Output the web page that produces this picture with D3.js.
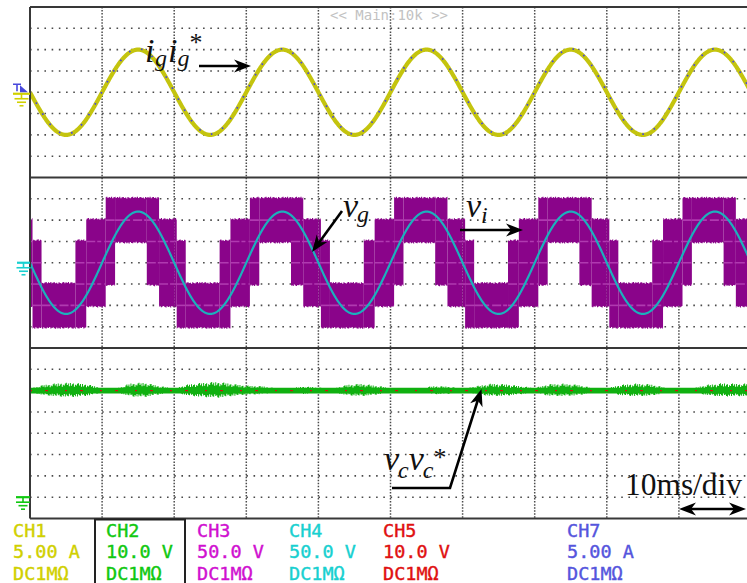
<!DOCTYPE html>
<html>
<head>
<meta charset="utf-8">
<script src="https://cdn.jsdelivr.net/npm/d3@7"></script>
<style>
  html, body { margin: 0; padding: 0; background: #fff; overflow: hidden; }
  svg { display: block; }
</style>
</head>
<body>
<svg id="scope" width="747" height="583"></svg>
<script>
// ---- acquisition settings -------------------------------------------------
const timeDomain = [0, 100];          // ms on screen, 10 ms/div
const gridFreqHz = 50;

// CH1 grid current i_g and CH7 its reference i_g* (A peak)
const igPeak = 10;
const igRefPeak = 10;
// CH4 grid voltage v_g (V peak)
const vgPeak = 120;
// both sinusoids start going negative at t = 0
const sinePhase = Math.PI;

// CH3 multilevel converter voltage v_i: switching envelope over one 20 ms cycle
const viSegStart = [0, 0.35, 1.6, 6.3, 7.8, 10.5, 11.8, 16.2, 17.9];
const viSegEnd   = [0.35, 1.6, 6.3, 7.8, 10.5, 11.8, 16.2, 17.9, 20];
const viUpper    = [100, 50, -50, 50, 100, 150, 150, 150, 100];
const viLower    = [-100, -150, -150, -150, -100, -50, 50, -50, -100];
const viLevelStep = 50;

// CH2 capacitor voltage v_c and CH5 its reference v_c* (V)
const vcMean = 50;
const vcRefMean = 50;
// switching ripple envelope of v_c, one reading every 2 ms (V)
const vcRippleStep = 2;
const vcRipple = [1.2, 2.8, 3.6, 3.8, 3.0, 1.3, 1.1, 3.5, 3.8, 2.2,
                  1.1, 3.0, 3.8, 4.2, 3.3, 2.4, 2.2, 1.3, 1.1, 2.0,
                  1.6, 1.1, 2.8, 3.3, 2.4, 1.3, 1.1, 1.1, 2.2, 2.0,
                  1.1, 2.2, 3.3, 3.1, 2.2, 1.3, 3.1, 3.3, 2.8, 1.3,
                  1.1, 2.8, 3.3, 3.1, 1.6, 1.1, 1.3, 2.8, 3.5, 3.3];

// channel legend
const chNames    = ["CH1", "CH2", "CH3", "CH4", "CH5", "CH7"];
const chScales   = ["5.00 A", "10.0 V", "50.0 V", "50.0 V", "10.0 V", "5.00 A"];
const chCoupling = ["DC1M\u03A9", "DC1M\u03A9", "DC1M\u03A9", "DC1M\u03A9", "DC1M\u03A9", "DC1M\u03A9"];

// ---- styling ----------------------------------------------------------------
const col = {
  ch1: "#c4c40e", ch1Text: "#d0d000",
  ch2: "#10b010", ch2Text: "#10c810",
  ch3: "#8a048a", ch3Streak: "#b03ab0", ch3Text: "#d010d0",
  ch4: "#1cb0bc", ch4Text: "#18d0d0",
  ch5: "#d41010", ch5Text: "#e01010",
  ch7: "#4848dc", ch7Text: "#5555dd",
  frame: "#383838", grid: "#4a4a4a"
};
const chColors = [col.ch1Text, col.ch2Text, col.ch3Text, col.ch4Text, col.ch5Text, col.ch7Text];
const chColX = [13, 106, 197, 289, 383, 567];

const svg = d3.select("#scope");
const plotL = 30, plotR = 751;
const panelTop = [7, 177.5, 348];
const panelH = 170.5;
const plotB = panelTop[2] + panelH;

const x  = d3.scaleLinear().domain(timeDomain).range([plotL, plotR]);
const yI = d3.scaleLinear().domain([-20, 20]).range([panelTop[0] + panelH, panelTop[0]]);
const yV = d3.scaleLinear().domain([-200, 200]).range([panelTop[1] + panelH, panelTop[1]]);
const yC = d3.scaleLinear().domain([-10, 70]).range([panelTop[2] + panelH, panelTop[2]]);

// clip for traces
const defs = svg.append("defs");
defs.append("clipPath").attr("id", "plotClip")
  .append("rect").attr("x", plotL + 1).attr("y", panelTop[0] + 1)
  .attr("width", plotR - plotL).attr("height", plotB - panelTop[0] - 2);

// ---- graticule ---------------------------------------------------------------
const grid = svg.append("g");
[[yI, panelTop[0]], [yV, panelTop[1]], [yC, panelTop[2]]].forEach(([ys, top]) => {
  const ticks = ys.ticks(8).filter(v => {
    const py = ys(v);
    return py > top + 2 && py < top + panelH - 2;
  });
  grid.selectAll(null).data(ticks).join("line")
    .attr("x1", plotL).attr("x2", plotR)
    .attr("y1", d => ys(d)).attr("y2", d => ys(d))
    .attr("stroke", col.grid).attr("stroke-width", 1.6)
    .attr("stroke-dasharray", "1.6 5.61");
});
const xTicks = x.ticks(10).filter(v => v > timeDomain[0] && v < timeDomain[1]);
grid.selectAll(null).data(xTicks).join("line")
  .attr("x1", d => x(d)).attr("x2", d => x(d))
  .attr("y1", panelTop[0]).attr("y2", plotB)
  .attr("stroke", col.grid).attr("stroke-width", 1.5)
  .attr("stroke-dasharray", "1.5 1.55");

// ---- traces -----------------------------------------------------------------
const traces = svg.append("g").attr("clip-path", "url(#plotClip)");
const omega = 2 * Math.PI * gridFreqHz / 1000;
const tSamples = d3.range(timeDomain[0], timeDomain[1] + 0.001, 0.05);

// CH3: v_i switching bands
const periods = d3.range(-1, 6);
const bandData = [];
periods.forEach(p => {
  viSegStart.forEach((s, i) => {
    bandData.push({ t0: p * 20 + s, t1: p * 20 + viSegEnd[i], hi: viUpper[i], lo: viLower[i] });
  });
});
// edge texture of the switching noise
const tex = [1, .35, .8, .5, .95, .25, .7, .9, .4, .6, .15, .85, .55, .3, .75];
const texDense = [1, .7, .9, .55, .95, .6, .8, .88, .5, .75, .65, .92];
const bandArea = d3.area().curve(d3.curveStep)
  .x(d => x(d.t)).y0(d => yV(d.lo)).y1(d => yV(d.hi));
bandData.forEach((b, bi) => {
  const pts = [];
  const n = Math.max(2, Math.round((b.t1 - b.t0) / 0.16));
  for (let k = 0; k <= n; k++) {
    const t = b.t0 + (b.t1 - b.t0) * k / n;
    pts.push({ t, hi: b.hi + 5 * tex[(k + bi) % tex.length], lo: b.lo - 5 * tex[(k + 7 + bi) % tex.length] });
  }
  traces.append("path").attr("d", bandArea(pts)).attr("fill", col.ch3);
});
// lighter streaks where the PWM dwells on intermediate levels
bandData.forEach(b => {
  for (let L = b.lo + viLevelStep; L < b.hi; L += viLevelStep) {
    traces.append("line")
      .attr("x1", x(b.t0)).attr("x2", x(b.t1))
      .attr("y1", yV(L)).attr("y2", yV(L))
      .attr("stroke", col.ch3Streak).attr("stroke-width", 1.6)
      .attr("stroke-dasharray", "9 2 4 3");
  }
});

// CH4: v_g
const lineV = d3.line().x(t => x(t)).y(t => yV(vgPeak * Math.sin(omega * t + sinePhase)));
traces.append("path").attr("d", lineV(tSamples))
  .attr("fill", "none").attr("stroke", col.ch4).attr("stroke-width", 2.2);

// CH1: i_g
const lineI = d3.line().x(t => x(t)).y(t => yI(igPeak * Math.sin(omega * t + sinePhase)));
traces.append("path").attr("d", lineI(tSamples))
  .attr("fill", "none").attr("stroke", col.ch1).attr("stroke-width", 4.2);
// CH7: i_g*
const lineIref = d3.line().x(t => x(t)).y(t => yI(igRefPeak * Math.sin(omega * t + sinePhase)) - 0.8);
traces.append("path").attr("d", lineIref(tSamples))
  .attr("fill", "none").attr("stroke", col.ch7).attr("stroke-width", 1.8)
  .attr("stroke-dasharray", "1.6 11");

// CH2: v_c with switching ripple
const rippleAt = t => {
  const f = t / vcRippleStep;
  const i = Math.min(vcRipple.length - 1, Math.floor(f));
  const j = Math.min(vcRipple.length - 1, i + 1);
  const a = f - i;
  return vcRipple[i] * (1 - a) + vcRipple[j] * a;
};
const vcPts = d3.range(timeDomain[0], timeDomain[1] + 0.001, 0.14).map((t, i) => {
  const r = rippleAt(t);
  return {
    t,
    hi: vcMean + Math.max(1.3, r * texDense[i % texDense.length]),
    lo: vcMean - Math.max(1.3, 0.8 * r * texDense[(i + 5) % texDense.length])
  };
});
const vcArea = d3.area().curve(d3.curveStep)
  .x(d => x(d.t)).y0(d => yC(d.lo)).y1(d => yC(d.hi));
traces.append("path").attr("d", vcArea(vcPts)).attr("fill", col.ch2);
// CH5: v_c*
traces.append("line")
  .attr("x1", x(timeDomain[0])).attr("x2", x(timeDomain[1]))
  .attr("y1", yC(vcRefMean)).attr("y2", yC(vcRefMean))
  .attr("stroke", col.ch5).attr("stroke-width", 1.4)
  .attr("stroke-dasharray", "2 13 3 17");

// ---- frame ------------------------------------------------------------------
const frame = svg.append("g").attr("stroke", col.frame).attr("stroke-width", 2).attr("fill", "none");
frame.append("line").attr("x1", plotL).attr("x2", plotL).attr("y1", panelTop[0]).attr("y2", plotB);
[panelTop[0], panelTop[1], panelTop[2], plotB].forEach(yy => {
  frame.append("line").attr("x1", plotL).attr("x2", 747).attr("y1", yy).attr("y2", yy);
});

// top status text
svg.append("text").attr("x", 389).attr("y", 20).attr("text-anchor", "middle")
  .attr("font-family", "DejaVu Sans Mono").attr("font-size", 14)
  .attr("fill", "#c2c2c2").text("<< Main:10k >>");

// ---- reference markers on the left edge -----------------------------------
function groundMarker(yRef, color, xLeft) {
  const g = svg.append("g").attr("stroke", color).attr("stroke-width", 1.6).attr("fill", "none");
  const mid = (xLeft + plotL) / 2;
  g.append("line").attr("x1", xLeft).attr("x2", plotL).attr("y1", yRef).attr("y2", yRef).attr("stroke-width", 2.2);
  g.append("line").attr("x1", mid).attr("x2", mid).attr("y1", yRef).attr("y2", yRef + 5);
  g.append("line").attr("x1", mid - 7).attr("x2", mid + 7).attr("y1", yRef + 5).attr("y2", yRef + 5);
  g.append("line").attr("x1", mid - 4.5).attr("x2", mid + 4.5).attr("y1", yRef + 8.5).attr("y2", yRef + 8.5);
  g.append("line").attr("x1", mid - 2).attr("x2", mid + 2).attr("y1", yRef + 12).attr("y2", yRef + 12);
}
groundMarker(yI(0) + 1.5, col.ch1Text, 13);
groundMarker(yV(0), col.ch4Text, 17);
groundMarker(yC(0), col.ch2Text, 16);
// trigger marker
const trig = svg.append("g");
trig.append("path").attr("d", `M13,${yI(0) - 8} H21 M17,${yI(0) - 8} V${yI(0) - 1}`)
  .attr("stroke", col.ch7).attr("stroke-width", 1.6).attr("fill", "none");
trig.append("path").attr("d", `M20,${yI(0) - 7} L28,${yI(0)} L20,${yI(0)} Z`).attr("fill", col.ch7);

// ---- annotations ------------------------------------------------------------
const ann = svg.append("g");
function arrowHead(tx, ty, ang) {
  ann.append("path").attr("d", "M0,0 L-17,-6.5 L-12,0 L-17,6.5 Z")
    .attr("transform", `translate(${tx},${ty}) rotate(${ang})`).attr("fill", "#000");
}
function arrowLine(pts) {
  ann.append("path").attr("d", d3.line()(pts)).attr("fill", "none")
    .attr("stroke", "#000").attr("stroke-width", 2.6);
}
const mathFont = "Liberation Serif";
// one text element per expression; parts are [string, size, dx, dy, italic]
function mathExpr(xx, yy, parts) {
  const t = ann.append("text").attr("x", xx).attr("y", yy)
    .attr("font-family", mathFont).attr("fill", "#111");
  parts.forEach(([s, size, dx, dy, it]) => {
    t.append("tspan").attr("font-size", size).attr("dx", dx).attr("dy", dy)
      .attr("font-style", it === false ? "normal" : "italic").text(s);
  });
}

// i_g i_g*
mathExpr(145, 62, [["i", 34, 0, 0], ["g", 24, 0.5, 4], ["i", 34, 1, -4], ["g", 24, 0, 4], ["*", 26, 0, -15, false]]);
arrowLine([[199, 66], [240, 66]]);
arrowHead(251, 66, 0);

// v_g
mathExpr(343, 217, [["v", 34, 0, 0], ["g", 24, -1, 5]]);
arrowLine([[342, 211], [318, 244]]);
arrowHead(312, 252, 126);

// v_i
mathExpr(466, 217, [["v", 34, 0, 0], ["i", 24, 0, 6]]);
arrowLine([[460, 230], [512, 230]]);
arrowHead(523, 230, 0);

// v_c v_c*
mathExpr(384, 470, [["v", 34, 0, 0], ["c", 24, -1, 8], ["v", 34, 0, -8], ["c", 24, -1, 8], ["*", 26, 0, -12, false]]);
arrowLine([[392, 488], [450, 488], [478.5, 398]]);
arrowHead(481.5, 389, -72.3);

// time base
ann.append("text").attr("x", 625).attr("y", 495)
  .attr("font-family", mathFont).attr("font-size", 32).attr("fill", "#111")
  .attr("textLength", 117).attr("lengthAdjust", "spacingAndGlyphs").text("10ms/div");
arrowLine([[688, 509], [737, 509]]);
arrowHead(746, 509, 0);
arrowHead(679, 509, 180);

// ---- channel legend ---------------------------------------------------------
svg.append("rect").attr("x", 95).attr("y", 519.5).attr("width", 90).attr("height", 70)
  .attr("fill", "none").attr("stroke", "#222").attr("stroke-width", 2);
const legend = svg.append("g").attr("font-family", "DejaVu Sans Mono").attr("font-size", 18.5);
chNames.forEach((nm, i) => {
  const rows = [nm, chScales[i], chCoupling[i]];
  rows.forEach((s, r) => {
    legend.append("text").attr("x", chColX[i]).attr("y", 536.5 + r * 21.5)
      .attr("fill", chColors[i]).attr("stroke", chColors[i]).attr("stroke-width", 0.4)
      .text(s);
  });
});
</script>
</body>
</html>
